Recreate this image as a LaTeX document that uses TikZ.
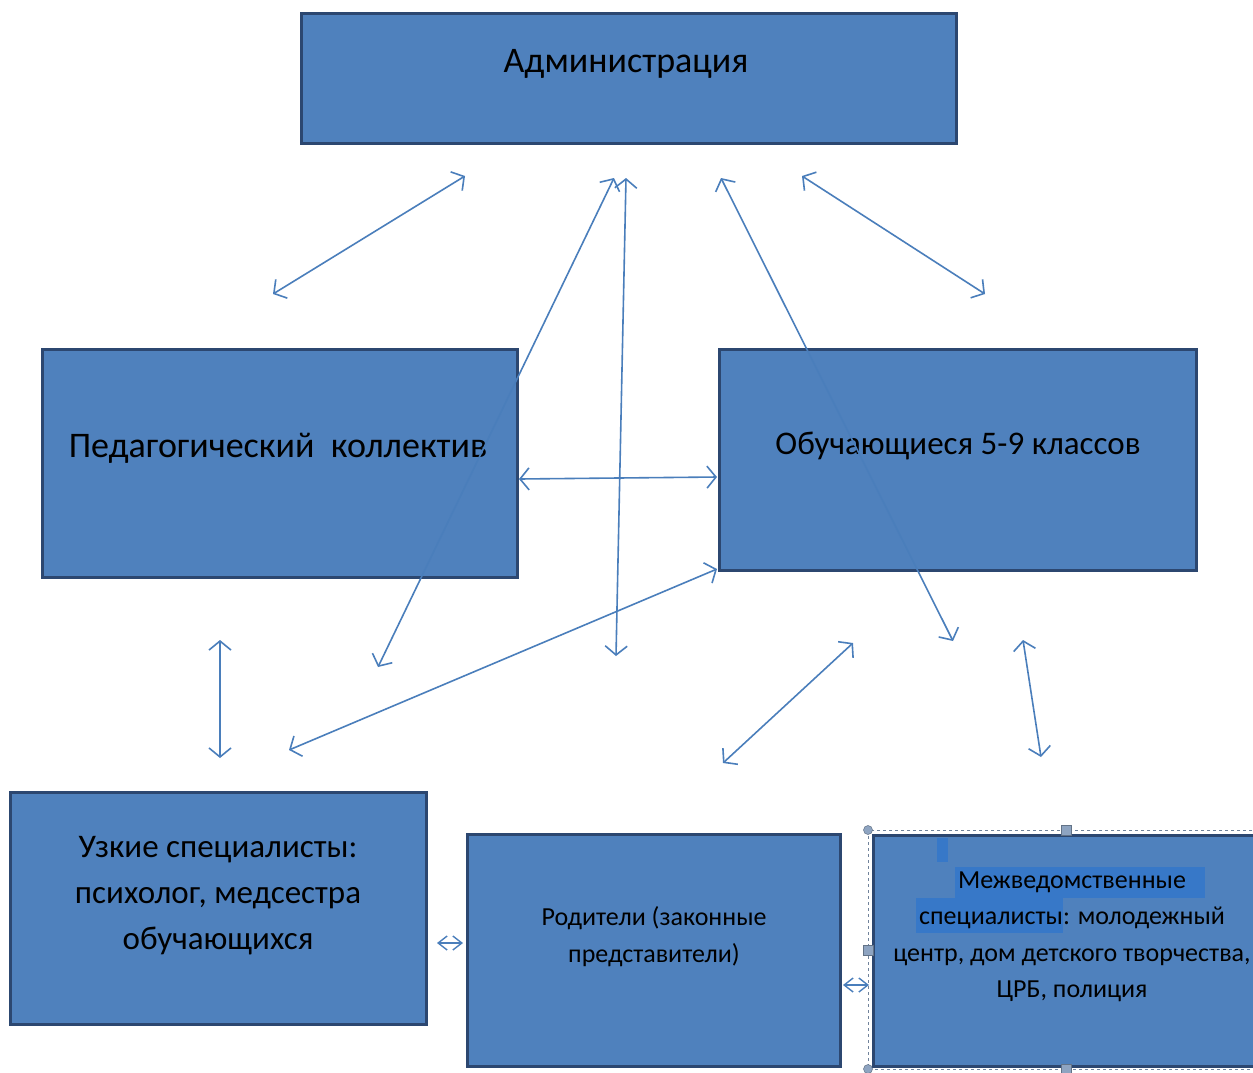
\documentclass[tikz,border=0pt]{standalone}
\usepackage{fontspec}
\setmainfont{Carlito}
\usetikzlibrary{arrows.meta}
\definecolor{boxfill}{HTML}{4F81BD}
\definecolor{boxline}{HTML}{2C4770}
\definecolor{arrowc}{HTML}{4A7EBB}
\definecolor{hilite}{HTML}{3778C8}
\definecolor{handle}{HTML}{8EA4C1}
\begin{document}
\begin{tikzpicture}[x=1pt,y=-1pt,
  box/.style={draw=boxline, line width=3pt, fill=boxfill, inner sep=0pt},
  txt/.style={align=center, inner sep=0pt, text=black},
  link/.style={draw=arrowc, line width=1.6pt,
    {Straight Barb[length=9pt,width=22pt]}-{Straight Barb[length=9pt,width=22pt]}},
  smalllink/.style={draw=arrowc, line width=1.4pt,
    {Straight Barb[length=9pt,width=14pt]}-{Straight Barb[length=9pt,width=14pt]}},
  hnd/.style={fill=handle, draw=handle!70!black, line width=0.5pt}]
\useasboundingbox (0,0) rectangle (1253,1072);
\clip (0,0) rectangle (1253,1072);
\fill[white] (0,0) rectangle (1253,1072);

% boxes
\node[box, minimum width=655pt, minimum height=130pt] (adm) at (628.5,78) {};
\node[box, minimum width=475pt, minimum height=228pt] (ped) at (279.5,463) {};
\node[box, minimum width=477pt, minimum height=221pt] (obu) at (957.5,459.5) {};
\node[box, minimum width=416pt, minimum height=232pt] (uzk) at (218,908) {};
\node[box, minimum width=373pt, minimum height=232pt] (rod) at (653.5,950) {};
\node[box, minimum width=390pt, minimum height=231pt] (mez) at (1068,950.5) {};

% selection frame of the last box
\draw[handle!80!black, dashed, line width=0.8pt] (868,830) rectangle (1262,1069);
\fill[hilite] (937,838) rectangle (948,862);
\fill[hilite] (955,867) rectangle (1205,898);
\fill[hilite] (916,898) rectangle (1063,933);
\node[hnd, circle, minimum size=9pt, inner sep=0pt] (h1) at (868,830) {};
\node[hnd, circle, minimum size=9pt, inner sep=0pt] (h2) at (868,1069) {};
\node[hnd, minimum size=10pt, inner sep=0pt] (h3) at (1066,830) {};
\node[hnd, minimum size=10pt, inner sep=0pt] (h4) at (868,950) {};
\node[hnd, minimum size=10pt, inner sep=0pt] (h5) at (1066,1069) {};

% texts
\node[txt, font=\fontsize{36}{40}\selectfont] (admt) at (626,64) {Администрация};
\node[txt, font=\fontsize{36}{40}\selectfont] (pedt) at (278,448) {Педагогический\ \ коллектив};
\node[txt, font=\fontsize{33}{40}\selectfont] (obut) at (958,446) {Обучающиеся 5-9 классов};
\node[txt, font=\fontsize{33}{46}\selectfont] (uzkt) at (218,896) {Узкие специалисты:\\психолог, медсестра\\обучающихся};
\node[txt, font=\fontsize{26}{37}\selectfont] (rodt) at (654,937) {Родители (законные\\представители)};
\node[txt, font=\fontsize{26}{36.5}\selectfont] (mezt) at (1072,937) {Межведомственные\\специалисты: молодежный\\центр, дом детского творчества,\\ЦРБ, полиция};

% connector end points
\coordinate (a1s) at (465,176);  \coordinate (a1e) at (273,294);
\coordinate (a2s) at (614,178);  \coordinate (a2e) at (378,667);
\coordinate (a3s) at (626,178);  \coordinate (a3e) at (616,656);
\coordinate (a4s) at (721,178);  \coordinate (a4e) at (953,641);
\coordinate (a5s) at (802,176);  \coordinate (a5e) at (985,294);
\coordinate (a6s) at (519,479);  \coordinate (a6e) at (717,477);
\coordinate (a7s) at (220,640);  \coordinate (a7e) at (220,758);
\coordinate (a8s) at (717,569);  \coordinate (a8e) at (289,750);
\coordinate (a9s) at (853,643);  \coordinate (a9e) at (723,763);
\coordinate (a10s) at (1023,640); \coordinate (a10e) at (1041,757);
\coordinate (a11s) at (437,943); \coordinate (a11e) at (463,943);
\coordinate (a12s) at (843,985); \coordinate (a12e) at (869,985);

% connectors
\draw[link] (a1s) -- (a1e);
\draw[link] (a2s) -- (a2e);
\draw[link] (a3s) -- (a3e);
\draw[link] (a4s) -- (a4e);
\draw[link] (a5s) -- (a5e);
\draw[link] (a6s) -- (a6e);
\draw[link] (a7s) -- (a7e);
\draw[link] (a8s) -- (a8e);
\draw[link] (a9s) -- (a9e);
\draw[link] (a10s) -- (a10e);
\draw[smalllink] (a11s) -- (a11e);
\draw[smalllink] (a12s) -- (a12e);
\end{tikzpicture}
\end{document}
